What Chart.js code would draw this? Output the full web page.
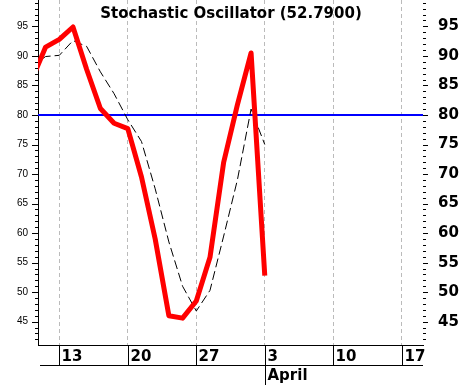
<!DOCTYPE html>
<html>
<head>
<meta charset="utf-8">
<script src="https://cdn.jsdelivr.net/npm/chart.js@4.4.0/dist/chart.umd.min.js"></script>
<style>
    html, body { margin: 0; padding: 0; background: #fff; }
    #wrap { width: 461px; height: 385px; position: relative; }
</style>
</head>
<body>
<div id="wrap"><canvas id="stochChart"></canvas></div>
<script>
// trading days on the x axis, the index is the position
const tradingDays = ['Mar 9', 'Mar 10', 'Mar 13', 'Mar 14', 'Mar 15', 'Mar 16', 'Mar 17',
    'Mar 20', 'Mar 21', 'Mar 22', 'Mar 23', 'Mar 24', 'Mar 27', 'Mar 28', 'Mar 29', 'Mar 30', 'Mar 31',
    'Apr 3', 'Apr 4', 'Apr 5', 'Apr 6', 'Apr 7', 'Apr 10', 'Apr 11', 'Apr 12', 'Apr 13', 'Apr 14', 'Apr 17'];

// %K (red) and %D (black dashed), Mar 9 .. Apr 3
const percentK = [86.0, 91.5, 92.8, 94.9, 87.7, 81.1, 78.6, 77.7, 69.5, 59.0, 46.0, 45.6, 48.5, 55.9, 72.0, 81.7, 90.5, 52.79];
const percentD = [88.2, 89.9, 90.1, 92.6, 91.6, 87.3, 83.6, 79.2, 75.5, 67.5, 58.5, 51.0, 46.8, 50.3, 59.5, 69.0, 81.0, 75.0];

const weekStarts = ['Mar 13', 'Mar 20', 'Mar 27', 'Apr 3', 'Apr 10', 'Apr 17'];
const weekLabels = ['13', '20', '27', '3', '10', '17'];
const monthLabels = { 'Apr 3': 'April' };

const yTicks = [45, 50, 55, 60, 65, 70, 75, 80, 85, 90, 95];
const levels = [80];
const lastValue = '52.7900';

const xMin = 0.445, xMax = 28.55;
const yMin = 41.05, yMax = 99.47;

const toPoints = arr => arr.map((v, i) => ({ x: i, y: v }));

// no extra room for labels spilling over the chart edges
function noPadding(axis) {
    axis.paddingTop = 0;
    axis.paddingBottom = 0;
    axis.paddingLeft = 0;
    axis.paddingRight = 0;
}

const overlay = {
    id: 'overlay',
    beforeDatasetsDraw(chart) {
        const { ctx, chartArea: a, scales: { y } } = chart;
        ctx.save();
        ctx.strokeStyle = '#0000ff';
        ctx.lineWidth = 2;
        levels.forEach(l => {
            const py = Math.round(y.getPixelForValue(l));
            ctx.beginPath();
            ctx.moveTo(a.left, py);
            ctx.lineTo(a.right, py);
            ctx.stroke();
        });
        ctx.restore();
    },
    afterDraw(chart) {
        const { ctx, chartArea: a, scales: { x, y } } = chart;
        ctx.save();
        ctx.strokeStyle = '#000';
        ctx.lineWidth = 1;

        // minor / major ticks on both sides
        for (let v = Math.ceil(yMin); v <= Math.floor(yMax); v++) {
            const py = Math.round(y.getPixelForValue(v)) + 0.5;
            const major = v % 5 === 0;
            ctx.beginPath();
            ctx.moveTo(a.left - (major ? 6 : 3), py);
            ctx.lineTo(a.left, py);
            ctx.moveTo(a.right, py);
            ctx.lineTo(a.right + (major ? 5 : 3), py);
            ctx.stroke();
        }

        // date band under the plot
        const rowTop = a.bottom;
        const rowBottom = a.bottom + 20;
        ctx.beginPath();
        ctx.moveTo(a.left + 2, rowBottom + 0.5);
        ctx.lineTo(a.right, rowBottom + 0.5);
        ctx.stroke();

        ctx.fillStyle = '#000';
        ctx.font = 'bold 15px "DejaVu Sans"';
        ctx.textAlign = 'left';
        ctx.textBaseline = 'alphabetic';
        weekStarts.forEach((d, i) => {
            const px = Math.round(x.getPixelForValue(tradingDays.indexOf(d))) + 0.5;
            const month = monthLabels[d];
            ctx.beginPath();
            ctx.moveTo(px, rowTop);
            ctx.lineTo(px, month ? chart.height : rowBottom);
            ctx.stroke();
            ctx.fillText(weekLabels[i], px + 2, rowTop + 16);
            if (month) {
                ctx.fillText(month, px + 2, rowBottom + 15);
            }
        });

        // title
        ctx.textAlign = 'center';
        ctx.fillText('Stochastic Oscillator (' + lastValue + ')', (a.left + a.right) / 2 + 0.5, 18);
        ctx.restore();
    }
};

const ctx = document.getElementById('stochChart').getContext('2d');
new Chart(ctx, {
    type: 'line',
    data: {
        datasets: [{
            label: '%K',
            data: toPoints(percentK),
            borderColor: '#ff0000',
            borderWidth: 5,
            borderJoinStyle: 'round',
            pointRadius: 0,
            tension: 0,
            yAxisID: 'y'
        }, {
            label: '%D',
            data: toPoints(percentD),
            borderColor: '#000000',
            borderWidth: 1,
            borderDash: [9, 4],
            pointRadius: 0,
            tension: 0,
            yAxisID: 'y'
        }]
    },
    options: {
        responsive: true,
        maintainAspectRatio: false,
        animation: false,
        layout: { padding: 0 },
        plugins: {
            legend: { display: false },
            tooltip: { enabled: false }
        },
        scales: {
            x: {
                type: 'linear',
                min: xMin,
                max: xMax,
                afterBuildTicks: axis => {
                    axis.ticks = weekStarts.map(d => ({ value: tradingDays.indexOf(d) }));
                },
                afterFit: axis => { axis.height = 40; noPadding(axis); },
                ticks: { display: false },
                grid: { color: '#bbbbbb', drawTicks: false },
                border: { display: true, color: '#000', width: 1, dash: [4, 3] }
            },
            y: {
                position: 'left',
                min: yMin,
                max: yMax,
                afterBuildTicks: axis => {
                    axis.ticks = yTicks.map(v => ({ value: v }));
                },
                afterFit: axis => { axis.width = 38; noPadding(axis); },
                ticks: {
                    autoSkip: false,
                    padding: 10,
                    color: '#000',
                    font: { family: '"Liberation Sans", Arial', size: 10 }
                },
                grid: { display: true, drawOnChartArea: false, drawTicks: false },
                border: { display: true, color: '#000', width: 1 }
            },
            y2: {
                position: 'right',
                min: yMin,
                max: yMax,
                afterBuildTicks: axis => {
                    axis.ticks = yTicks.map(v => ({ value: v }));
                },
                afterFit: axis => { axis.width = 38; noPadding(axis); },
                ticks: {
                    autoSkip: false,
                    padding: 15,
                    color: '#000',
                    font: { family: '"DejaVu Sans"', size: 15, weight: 'bold' }
                },
                grid: { display: true, drawOnChartArea: false, drawTicks: false },
                border: { display: false }
            }
        }
    },
    plugins: [overlay]
});
</script>
</body>
</html>
